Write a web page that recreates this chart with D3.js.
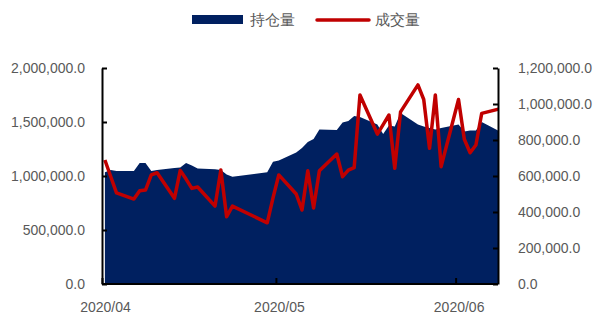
<!DOCTYPE html>
<html>
<head>
<meta charset="utf-8">
<script src="https://cdn.jsdelivr.net/npm/d3@7"></script>
<style>
  body { margin: 0; background: #fff; }
  svg { display: block; font-family: "Liberation Sans", Arial, sans-serif; }
</style>
</head>
<body>
<svg width="594" height="314"></svg>
<script>
// trading days
const dates = [
  "2020-04-01","2020-04-02","2020-04-03","2020-04-06","2020-04-07","2020-04-08","2020-04-09","2020-04-10",
  "2020-04-13","2020-04-14","2020-04-15","2020-04-16","2020-04-17","2020-04-20","2020-04-21","2020-04-22",
  "2020-04-23","2020-04-29","2020-04-30","2020-05-01","2020-05-04","2020-05-05","2020-05-06","2020-05-07",
  "2020-05-08","2020-05-11","2020-05-12","2020-05-13","2020-05-14","2020-05-15","2020-05-18","2020-05-19",
  "2020-05-20","2020-05-21","2020-05-22","2020-05-25","2020-05-26","2020-05-27","2020-05-28","2020-05-29",
  "2020-06-01","2020-06-02","2020-06-03","2020-06-04","2020-06-05","2020-06-08"
];
// 持仓量 (left axis)
const holding = [
  1034000,1056000,1046000,1046000,1120000,1120000,1046000,1056000,
  1074000,1079000,1120000,1097000,1069000,1062000,1056000,1014000,
  993000,1034000,1132000,1144000,1218000,1259000,1315000,1343000,
  1431000,1426000,1495000,1509000,1556000,1546000,1477000,1389000,
  1468000,1458000,1583000,1477000,1458000,1444000,1431000,1444000,
  1477000,1412000,1421000,1421000,1500000,1417000
];
// 成交量 (right axis)
const volume = [
  689000,597000,506000,472000,518000,522000,606000,618000,
  476000,631000,583000,531000,539000,433000,633000,374000,
  433000,340000,478000,606000,500000,411000,629000,422000,
  629000,722000,596000,633000,647000,1050000,833000,885000,
  939000,643000,956000,1106000,1025000,754000,1050000,652000,
  1025000,804000,729000,772000,948000,972000
];
const leftTicks = [0, 500000, 1000000, 1500000, 2000000];
const rightTicks = [0, 200000, 400000, 600000, 800000, 1000000, 1200000];
const monthTicks = ["2020-04-01", "2020-05-01", "2020-06-01"];
const seriesNames = ["持仓量", "成交量"];

const svg = d3.select("svg");
const mLeft = 102, mRight = 498, mTop = 68, mBottom = 284;
const dayW = 5.797;

const parse = d3.timeParse("%Y-%m-%d");
const data = dates.map((d, i) => ({
  date: d3.timeHour.offset(parse(d), 12),
  hold: holding[i],
  vol: volume[i]
}));

const start = parse("2020-04-01");
const x = d3.scaleTime()
  .domain([start, d3.timeDay.offset(start, 69)])
  .range([mLeft, mLeft + 69 * dayW]);
const yL = d3.scaleLinear().domain([0, 2000000]).range([mBottom, mTop]);
const yR = d3.scaleLinear().domain([0, 1200000]).range([mBottom, mTop]);

svg.append("clipPath").attr("id", "plot")
  .append("rect").attr("x", mLeft).attr("y", 0).attr("width", mRight - mLeft).attr("height", mBottom);

const fmt = d3.format(",.1f");

// area
svg.append("path")
  .datum(data)
  .attr("clip-path", "url(#plot)")
  .attr("fill", "#002060")
  .attr("d", d3.area().x(d => x(d.date)).y0(yL(0)).y1(d => yL(d.hold)));

// line
svg.append("path")
  .datum(data)
  .attr("clip-path", "url(#plot)")
  .attr("fill", "none")
  .attr("stroke", "#C00000")
  .attr("stroke-width", 3.5)
  .attr("stroke-linejoin", "round")
  .attr("d", d3.line().x(d => x(d.date)).y(d => yR(d.vol)));

// axes
const axisL = svg.append("g")
  .attr("transform", "translate(" + mLeft + ",0)")
  .call(d3.axisLeft(yL).tickValues(leftTicks).tickSizeInner(-5).tickSizeOuter(0).tickPadding(17).tickFormat(fmt));
const axisR = svg.append("g")
  .attr("transform", "translate(" + mRight + ",0)")
  .call(d3.axisRight(yR).tickValues(rightTicks).tickSizeInner(-5).tickSizeOuter(0).tickPadding(20).tickFormat(fmt));
const axisB = svg.append("g")
  .attr("transform", "translate(0," + mBottom + ")")
  .call(d3.axisBottom(x).tickValues(monthTicks.map(parse)).tickSizeInner(-6).tickSizeOuter(0)
    .tickPadding(18).tickFormat(d3.timeFormat("%Y/%m")));

[axisL, axisR, axisB].forEach(g => {
  g.select(".domain").attr("stroke", "#000").attr("stroke-width", 2);
  g.selectAll(".tick line").attr("stroke", "#000").attr("stroke-width", 2);
  g.selectAll("text").attr("fill", "#595959").style("font-size", "14px");
});
axisB.selectAll("text").attr("dx", 3);
axisB.select(".domain").attr("d", "M" + mLeft + ",0H" + mRight);

// legend
const legend = svg.append("g");
legend.append("rect").attr("x", 192).attr("y", 15).attr("width", 51).attr("height", 9).attr("fill", "#002060");
legend.append("text").attr("x", 250).attr("y", 20).attr("dy", "0.35em")
  .attr("fill", "#595959").style("font-size", "15px").text(seriesNames[0]);
legend.append("line").attr("x1", 317).attr("x2", 369).attr("y1", 20).attr("y2", 20)
  .attr("stroke", "#C00000").attr("stroke-width", 3.5).attr("stroke-linecap", "round");
legend.append("text").attr("x", 375).attr("y", 20).attr("dy", "0.35em")
  .attr("fill", "#595959").style("font-size", "15px").text(seriesNames[1]);
</script>
</body>
</html>
